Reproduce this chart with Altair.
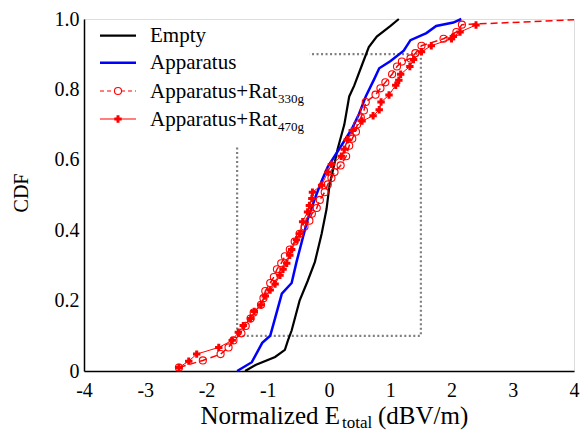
import altair as alt
import pandas as pd

FONT = "Liberation Serif"

x_ticks = [-4, -3, -2, -1, 0, 1, 2, 3, 4]
y_ticks = [0, 0.2, 0.4, 0.6, 0.8, 1.0]

empty_x = [-1.37, -1.20, -0.88, -0.72, -0.67, -0.61, -0.48, -0.35, -0.23, -0.12, -0.04,
           0.01, 0.09, 0.14, 0.25, 0.33, 0.41, 0.54, 0.65, 0.78, 1.00, 1.14]
empty_y = [0.0, 0.017, 0.04, 0.06, 0.087, 0.115, 0.20, 0.255, 0.31, 0.39, 0.46,
           0.53, 0.59, 0.63, 0.70, 0.78, 0.81, 0.87, 0.92, 0.95, 0.98, 1.0]

app_x = [-1.50, -1.26, -1.09, -0.96, -0.88, -0.77, -0.61, -0.53, -0.44, -0.35, -0.23, -0.12, -0.02,
         0.20, 0.38, 0.49, 0.60, 0.74, 0.82, 1.00, 1.22, 1.33, 1.59, 1.75, 2.03, 2.16]
app_y = [0.0, 0.025, 0.08, 0.10, 0.15, 0.22, 0.25, 0.31, 0.37, 0.43, 0.49, 0.54, 0.58,
         0.64, 0.69, 0.73, 0.78, 0.83, 0.86, 0.88, 0.91, 0.94, 0.96, 0.98, 0.99, 1.0]

r330_x = [-2.45, -2.06, -1.77, -1.64, -1.56, -1.43, -1.36, -1.28, -1.23, -1.11, -1.07, -1.04,
          -0.96, -0.90, -0.85, -0.78, -0.72, -0.64, -0.56, -0.48, -0.40, -0.32, -0.28, -0.20,
          -0.15, -0.07, -0.02, 0.04, 0.09, 0.19, 0.28, 0.33, 0.38, 0.44, 0.46, 0.52, 0.57,
          0.60, 0.76, 0.84, 0.92, 1.03, 1.11, 1.19, 1.33, 1.41, 1.51, 1.87, 2.08, 2.17, 4.3]
r330_y = [0.01, 0.03, 0.048, 0.067, 0.087, 0.107, 0.128, 0.149, 0.166, 0.188, 0.207, 0.227,
          0.25, 0.267, 0.289, 0.306, 0.326, 0.345, 0.368, 0.39, 0.41, 0.427, 0.447, 0.463,
          0.486, 0.508, 0.53, 0.548, 0.565, 0.584, 0.61, 0.64, 0.66, 0.68, 0.70, 0.72, 0.74,
          0.764, 0.785, 0.803, 0.82, 0.843, 0.865, 0.879, 0.888, 0.903, 0.924, 0.944, 0.963, 0.984, 1.0]

r470_x = [-2.45, -2.29, -2.16, -1.80, -1.58, -1.48, -1.40, -1.28, -1.22, -1.11, -1.04, -0.96,
          -0.88, -0.80, -0.75, -0.69, -0.64, -0.61, -0.53, -0.48, -0.43, -0.35, -0.32, -0.28,
          -0.27, -0.12, -0.02, 0.04, 0.20, 0.25, 0.30, 0.38, 0.54, 0.72, 0.82, 0.85, 0.98,
          1.09, 1.14, 1.17, 1.32, 1.38, 1.51, 1.67, 2.00, 2.03, 2.14, 2.40]
r470_y = [0.01, 0.028, 0.048, 0.067, 0.087, 0.11, 0.129, 0.149, 0.169, 0.188, 0.213, 0.23,
          0.247, 0.272, 0.289, 0.306, 0.329, 0.345, 0.373, 0.39, 0.424, 0.452, 0.47, 0.49,
          0.508, 0.528, 0.565, 0.587, 0.61, 0.63, 0.657, 0.683, 0.71, 0.725, 0.742, 0.764, 0.784,
          0.812, 0.826, 0.843, 0.865, 0.885, 0.907, 0.924, 0.944, 0.95, 0.963, 0.983]

box_x = [-1.5, -1.5, 1.5, 1.5, -0.32]
box_y = [0.635, 0.1, 0.1, 0.9, 0.9]


def sdf(xs, ys):
    return pd.DataFrame({"x": xs, "y": ys, "i": list(range(len(xs)))})


xscale = alt.Scale(domain=[-4, 4], nice=False, zero=False)
yscale = alt.Scale(domain=[0, 1], nice=False, zero=False)

xaxis = alt.Axis(values=x_ticks, labelExpr="'' + datum.value", title=None, grid=False,
                 ticks=False, tickSize=0, labelPadding=9, labelFontSize=20, labelFont=FONT,
                 labelColor="black", domainColor="black", domainWidth=1.5,
                 labelFlush=False, labelOverlap=False)
yaxis = alt.Axis(values=y_ticks,
                 labelExpr="datum.value == 0 ? '0' : format(datum.value, '.1f')",
                 title=None, grid=False, ticks=False, tickSize=0, labelPadding=5,
                 labelFontSize=20, labelFont=FONT, labelColor="black",
                 domainColor="black", domainWidth=1.5, labelFlush=False, labelOverlap=False)


def xy(ch):
    return ch.encode(
        x=alt.X("x:Q", scale=xscale, axis=xaxis),
        y=alt.Y("y:Q", scale=yscale, axis=yaxis),
        order="i:Q",
    )


box = xy(alt.Chart(sdf(box_x, box_y)).mark_line(color="#808080", strokeWidth=2.2,
                                                 strokeDash=[2, 2.5]))
empty = xy(alt.Chart(sdf(empty_x, empty_y)).mark_line(color="black", strokeWidth=2.2))
app = xy(alt.Chart(sdf(app_x, app_y)).mark_line(color="#0000ff", strokeWidth=2.5))
r330_line = xy(alt.Chart(sdf(r330_x, r330_y)).mark_line(color="red", strokeWidth=1.5,
                                                         strokeDash=[7, 4], clip=True))
r330_pts = xy(alt.Chart(sdf(r330_x, r330_y)).mark_point(shape="circle", filled=False,
                                                         color="red", size=50, strokeWidth=1.1,
                                                         clip=True, opacity=1))
r470_line = xy(alt.Chart(sdf(r470_x, r470_y)).mark_line(color="red", strokeWidth=1))
r470_pts = xy(alt.Chart(sdf(r470_x, r470_y)).mark_point(shape="cross", filled=True,
                                                         color="red", size=55, opacity=1))

one = pd.DataFrame({"k": [0]})


def txt(s, x, y, size, align="left", angle=0, baseline="alphabetic"):
    return alt.Chart(one).mark_text(text=s, font=FONT, fontSize=size, align=align,
                                    baseline=baseline, color="black", angle=angle).encode(
        x=alt.value(x), y=alt.value(y))


def leg_line(y, color, width, dash=None):
    kw = dict(color=color, strokeWidth=width)
    if dash:
        kw["strokeDash"] = dash
    return alt.Chart(one).mark_rule(**kw).encode(x=alt.value(16), x2=alt.value(52), y=alt.value(y))


rows = [16.7, 43.7, 72, 100]
legend = [
    leg_line(rows[0], "black", 2.2),
    leg_line(rows[1], "#0000ff", 2.5),
    leg_line(rows[2], "red", 1.2, [4, 3]),
    alt.Chart(one).mark_point(shape="circle", filled=True, fill="white", stroke="red",
                              size=50, strokeWidth=1.1, opacity=1).encode(
        x=alt.value(34), y=alt.value(rows[2])),
    leg_line(rows[3], "red", 1.2),
    alt.Chart(one).mark_point(shape="cross", filled=True, color="red", size=55,
                              opacity=1).encode(x=alt.value(34), y=alt.value(rows[3])),
    txt("Empty", 66, rows[0] + 6.5, 21),
    txt("Apparatus", 66, rows[1] + 6.5, 21),
    txt("Apparatus+Rat", 66, rows[2] + 6.5, 21),
    txt("330g", 194, rows[2] + 11.5, 13),
    txt("Apparatus+Rat", 66, rows[3] + 6.5, 21),
    txt("470g", 194, rows[3] + 11.5, 13),
]

titles = [
    txt("Normalized E", 256, 405, 25, align="right"),
    txt("total", 258, 409, 17),
    txt("(dBV/m)", 294, 405, 25),
    txt("CDF", -62, 174, 20, align="center", angle=270, baseline="middle"),
]

chart = alt.layer(box, empty, app, r330_line, r330_pts, r470_line, r470_pts,
                  *legend, *titles).properties(
    width=490, height=352, autosize="none",
    padding={"left": 76, "top": 11, "right": 6, "bottom": 62},
).configure_view(stroke="black", strokeWidth=1.5).configure(font=FONT)

chart.save("out.html", embed_options={"renderer": "svg", "actions": False})
